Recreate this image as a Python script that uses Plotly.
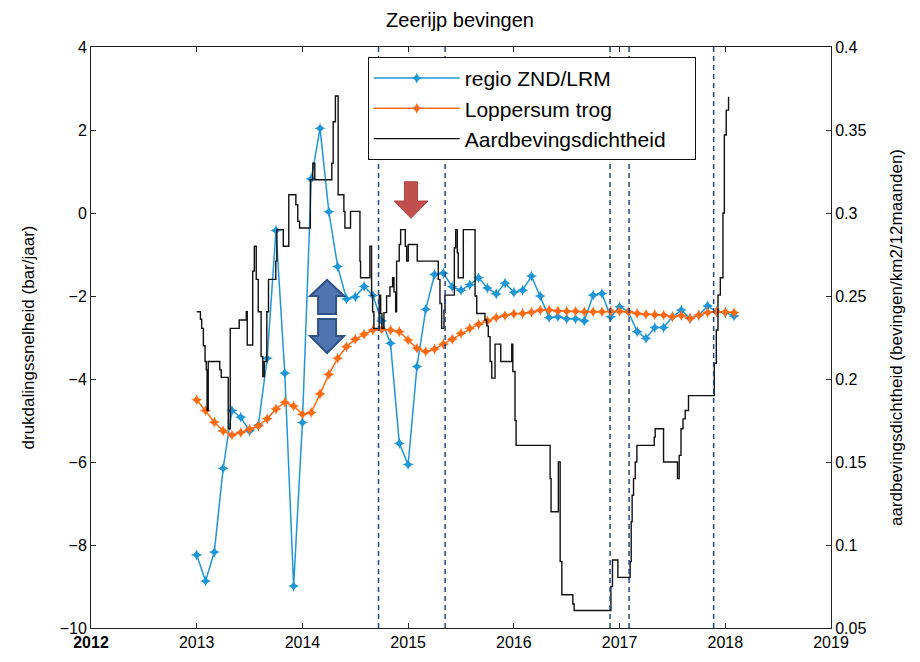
import plotly.graph_objects as go

# ---------------- data ----------------
# monthly values, Jan 2013 .. Feb 2018 (left axis, bar/jaar)
regio_znd_lrm = [-8.24, -8.87, -8.17, -6.15, -4.76, -4.92, -5.25, -5.11, -3.50, -0.42,
                 -3.86, -8.99, -5.05, 0.82, 2.04, 0.03, -1.29, -2.07, -2.02, -1.77,
                 -1.99, -2.60, -3.14, -5.55, -6.06, -3.70, -2.32, -1.48, -1.45, -1.78,
                 -1.86, -1.73, -1.56, -1.81, -1.95, -1.69, -1.91, -1.86, -1.52, -2.00,
                 -2.52, -2.50, -2.55, -2.55, -2.60, -1.98, -1.94, -2.50, -2.26, -2.38,
                 -2.86, -3.02, -2.76, -2.76, -2.50, -2.34, -2.54, -2.46, -2.24, -2.38,
                 -2.40, -2.48]
loppersum_trog = [-4.50, -4.76, -5.04, -5.25, -5.35, -5.29, -5.21, -5.13, -4.96, -4.72,
                  -4.56, -4.65, -4.85, -4.81, -4.36, -3.89, -3.50, -3.22, -3.04, -2.92,
                  -2.82, -2.80, -2.82, -2.86, -3.06, -3.26, -3.34, -3.28, -3.16, -3.04,
                  -2.90, -2.78, -2.68, -2.60, -2.52, -2.47, -2.43, -2.42, -2.39, -2.34,
                  -2.34, -2.36, -2.37, -2.37, -2.38, -2.38, -2.38, -2.37, -2.37, -2.38,
                  -2.42, -2.44, -2.45, -2.46, -2.50, -2.47, -2.54, -2.46, -2.40, -2.38,
                  -2.39, -2.40]
months = [2013 + i / 12 for i in range(len(regio_znd_lrm))]

# earthquake density (right axis), step function: (decimal year, value)
dichtheid_t = [2013.000, 2013.035, 2013.047, 2013.063, 2013.079, 2013.090, 2013.098, 2013.109,
               2013.218, 2013.232, 2013.298, 2013.317, 2013.402, 2013.469, 2013.478, 2013.530,
               2013.545, 2013.563, 2013.582, 2013.609, 2013.625, 2013.639, 2013.663, 2013.679,
               2013.748, 2013.758, 2013.819, 2013.871, 2013.938, 2013.956, 2013.973, 2014.075,
               2014.098, 2014.117, 2014.278, 2014.291, 2014.312, 2014.338, 2014.392, 2014.402,
               2014.455, 2014.544, 2014.550, 2014.638, 2014.654, 2014.664, 2014.676, 2014.726,
               2014.740, 2014.752, 2014.771, 2014.796, 2014.828, 2014.853, 2014.866, 2014.882,
               2014.891, 2014.916, 2014.929, 2014.973, 2014.986, 2015.001, 2015.086, 2015.285,
               2015.301, 2015.317, 2015.339, 2015.348, 2015.437, 2015.450, 2015.465, 2015.474,
               2015.522, 2015.633, 2015.649, 2015.727, 2015.743, 2015.758, 2015.775, 2015.791,
               2015.822, 2015.876, 2015.980, 2015.990, 2016.011, 2016.021, 2016.343, 2016.352,
               2016.421, 2016.438, 2016.454, 2016.558, 2016.570, 2016.918, 2016.933, 2016.984,
               2017.100, 2017.110, 2017.119, 2017.132, 2017.148, 2017.164, 2017.328, 2017.337,
               2017.416, 2017.548, 2017.564, 2017.581, 2017.600, 2017.621, 2017.652, 2017.896,
               2017.915, 2017.931, 2017.953, 2017.978, 2017.991, 2018.009, 2018.031]
dichtheid_v = [0.2405, 0.236, 0.2305, 0.220, 0.2105, 0.2055, 0.181, 0.2105,
               0.2055, 0.201, 0.170, 0.2305, 0.2355, 0.2405, 0.2205, 0.265,
               0.280, 0.260, 0.2405, 0.2135, 0.2015, 0.2105, 0.2405, 0.260,
               0.271, 0.290, 0.280, 0.311, 0.305, 0.295, 0.291, 0.320,
               0.330, 0.320, 0.330, 0.355, 0.3705, 0.311, 0.301, 0.291,
               0.301, 0.271, 0.261, 0.280, 0.2505, 0.2405, 0.2305, 0.2505,
               0.2395, 0.2305, 0.240, 0.250, 0.2555, 0.261, 0.2525, 0.2405,
               0.271, 0.281, 0.290, 0.280, 0.271, 0.281, 0.271, 0.260,
               0.2455, 0.2305, 0.2415, 0.2505, 0.279, 0.290, 0.276, 0.261,
               0.290, 0.250, 0.2395, 0.2355, 0.232, 0.2255, 0.2105, 0.2005,
               0.221, 0.2105, 0.221, 0.2045, 0.175, 0.160, 0.140, 0.120,
               0.150, 0.090, 0.070, 0.0645, 0.0605, 0.075, 0.091, 0.0805,
               0.090, 0.114, 0.130, 0.140, 0.150, 0.160, 0.165, 0.170,
               0.150, 0.140, 0.154, 0.170, 0.176, 0.181, 0.190, 0.2095,
               0.2295, 0.2505, 0.261, 0.300, 0.347, 0.362, 0.370]

event_dates = [2014.72, 2015.35, 2016.91, 2017.09, 2017.89]

x_ticks = [2012, 2013, 2014, 2015, 2016, 2017, 2018, 2019]
x_ticktext = ["<b>2012</b>", "2013", "2014", "2015", "2016", "2017", "2018", "2019"]

# ---------------- figure ----------------
FONT = "Liberation Sans, Arial, sans-serif"
BLUE = "#1f96d6"
ORANGE = "#ff6a12"
AX = "#222222"
PAD = "\u00a0" * 4  # widens the legend box a little, like the reference

fig = go.Figure()

fig.add_trace(go.Scatter(
    x=months, y=regio_znd_lrm, name="regio ZND/LRM", mode="lines+markers",
    line=dict(color=BLUE, width=1.5),
    marker=dict(symbol="star-diamond", size=8, color=BLUE),
    yaxis="y"))
fig.add_trace(go.Scatter(
    x=months, y=loppersum_trog, name="Loppersum trog", mode="lines+markers",
    line=dict(color=ORANGE, width=1.5),
    marker=dict(symbol="star-diamond", size=8, color=ORANGE),
    yaxis="y"))
fig.add_trace(go.Scatter(
    x=dichtheid_t, y=dichtheid_v, name="Aardbevingsdichtheid" + PAD, mode="lines",
    line=dict(color="#111111", width=1.4, shape="hv"),
    yaxis="y2"))

shapes = []
for d in event_dates:
    shapes.append(dict(type="line", xref="x", yref="paper", x0=d, x1=d, y0=0, y1=1,
                       line=dict(color="#23488a", width=1.5, dash="5px,4px"), layer="above"))


def arrow_path(cx, top, head_base, tip, bw, hw):
    return (f"M {cx-bw},{top} L {cx+bw},{top} L {cx+bw},{head_base} L {cx+hw},{head_base} "
            f"L {cx},{tip} L {cx-hw},{head_base} L {cx-bw},{head_base} Z")


# red down arrow
shapes.append(dict(type="path", xref="x", yref="y",
                   path=arrow_path(2015.027, 0.754, 0.289, -0.128, 0.062, 0.161),
                   fillcolor="#c0504d", line=dict(color="#b04744", width=1), layer="above"))
# blue up arrow
shapes.append(dict(type="path", xref="x", yref="y",
                   path=arrow_path(2014.233, -2.434, -2.0, -1.614, 0.085, 0.161),
                   fillcolor="#4f76b0", line=dict(color="#2f5186", width=2), layer="above"))
# blue down arrow
shapes.append(dict(type="path", xref="x", yref="y",
                   path=arrow_path(2014.233, -2.554, -2.964, -3.373, 0.085, 0.161),
                   fillcolor="#4f76b0", line=dict(color="#2f5186", width=2), layer="above"))

fig.update_layout(
    width=904, height=646,
    margin=dict(l=83, r=81, t=39, b=26),
    paper_bgcolor="white", plot_bgcolor="white",
    font=dict(family=FONT, size=16, color="black"),
    title=dict(text="Zeerijp bevingen", x=0.5, xanchor="center", y=1 - 12 / 646,
               yanchor="middle", yref="container", font=dict(size=20, color="black")),
    xaxis=dict(range=[2012, 2019], tickvals=x_ticks, ticktext=x_ticktext,
               ticks="inside", ticklen=5, tickcolor=AX, showline=True, linecolor=AX,
               linewidth=1, mirror="ticks", showgrid=False, zeroline=False,
               tickfont=dict(size=16), automargin=False),
    yaxis=dict(range=[-10, 4], dtick=2, tick0=-10, ticks="inside", ticklen=5, tickcolor=AX,
               showline=True, linecolor=AX, linewidth=1, showgrid=False, zeroline=False,
               title=dict(text="drukdalingssnelheid (bar/jaar)", font=dict(size=17), standoff=20),
               tickfont=dict(size=16), automargin=False),
    yaxis2=dict(range=[0.05, 0.4], dtick=0.05, tick0=0.05, overlaying="y", side="right",
                ticks="inside", ticklen=5, tickcolor=AX, showline=True, linecolor=AX,
                linewidth=1, showgrid=False, zeroline=False,
                title=dict(text="aardbevingsdichtheid (bevingen/km2/12maanden)",
                           font=dict(size=17), standoff=24),
                tickfont=dict(size=16), automargin=False),
    legend=dict(x=0.374, y=0.983, xanchor="left", yanchor="top", bgcolor="white",
                bordercolor="#111", borderwidth=1, font=dict(size=21), itemwidth=86),
    shapes=shapes,
    showlegend=True,
)

fig.write_html("out.html")
